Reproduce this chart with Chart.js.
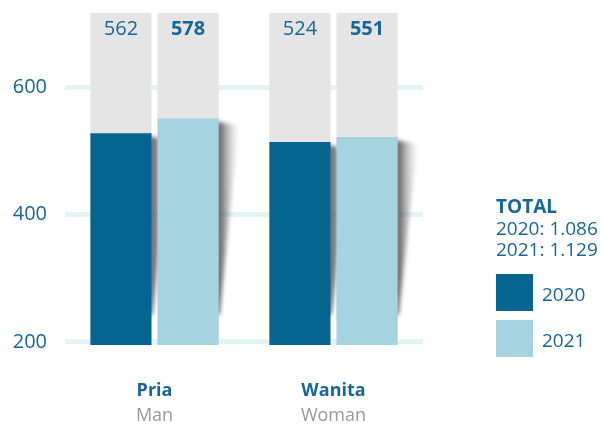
<!DOCTYPE html>
<html>
<head>
<meta charset="utf-8">
<script src="https://cdn.jsdelivr.net/npm/chart.js@4"></script>
<style>
    html, body { margin: 0; padding: 0; background: #fff; }
    #wrap { width: 603px; height: 425px; position: relative; }
</style>
</head>
<body>
<div id="wrap"><canvas id="canvas"></canvas></div>
<script>
'use strict';

const categories = ['Pria', 'Wanita'];
const categoriesEn = ['Man', 'Woman'];
const values2020 = [528, 514];
const values2021 = [551, 522];
const labels2020 = ['562', '524'];
const labels2021 = ['578', '551'];
const backdrop = [717, 717];
const yTicks = [200, 400, 600];
const totalTitle = 'TOTAL';
const totalLines = ['2020: 1.086', '2021: 1.129'];
const seriesNames = ['2020', '2021'];

const DARK = '#066490';
const LIGHT = '#a5d3df';
const GREY = '#e5e5e5';
const TEXT = '#17679a';
const FONT = "'Open Sans', sans-serif";

// soft shadow on the right of the coloured bars, drawn after the grey backdrops
const shadowPlugin = {
    id: 'barShadow',
    beforeDatasetDraw(chart, args) {
        if (args.index !== 1) return;
        const ctx = chart.ctx;
        const bottom = chart.chartArea.bottom;
        [0, 1].forEach(function (i) {
            chart.getDatasetMeta(i).data.forEach(function (bar) {
                const p = bar.getProps(['x', 'y', 'width'], true);
                const xr = p.x + p.width / 2;
                const g = ctx.createLinearGradient(xr, 0, xr + 20, 0);
                g.addColorStop(0, 'rgba(50,50,50,0.8)');
                g.addColorStop(0.5, 'rgba(90,90,90,0.35)');
                g.addColorStop(1, 'rgba(120,120,120,0)');
                ctx.save();
                ctx.filter = 'blur(2px)';
                ctx.fillStyle = g;
                ctx.beginPath();
                ctx.moveTo(xr - 2, p.y + 3);
                ctx.lineTo(xr + 20, p.y + 7);
                ctx.lineTo(xr + 1, bottom - 30);
                ctx.lineTo(xr - 2, bottom - 30);
                ctx.closePath();
                ctx.fill();
                ctx.restore();
            });
        });
    }
};

// value labels, category labels and the side legend
const textPlugin = {
    id: 'texts',
    afterDraw(chart) {
        const ctx = chart.ctx;
        const area = chart.chartArea;
        const xScale = chart.scales.x;
        ctx.save();
        ctx.textAlign = 'center';
        ctx.textBaseline = 'middle';
        ctx.fillStyle = TEXT;
        chart.getDatasetMeta(2).data.forEach(function (bar, i) {
            ctx.font = '20px ' + FONT;
            ctx.fillText(labels2020[i], bar.x, area.top + 16);
        });
        chart.getDatasetMeta(3).data.forEach(function (bar, i) {
            ctx.font = 'bold 20px ' + FONT;
            ctx.fillText(labels2021[i], bar.x, area.top + 16);
        });

        ctx.textBaseline = 'alphabetic';
        categories.forEach(function (c, i) {
            const x = xScale.getPixelForValue(i);
            ctx.font = 'bold 18px ' + FONT;
            ctx.fillStyle = TEXT;
            ctx.fillText(c, x, area.bottom + 51);
            ctx.font = '18px ' + FONT;
            ctx.fillStyle = '#9a9a9a';
            ctx.fillText(categoriesEn[i], x, area.bottom + 76);
        });

        // legend block
        const lx = 496;
        ctx.textAlign = 'left';
        ctx.fillStyle = TEXT;
        ctx.font = 'bold 19px ' + FONT;
        ctx.fillText(totalTitle, lx, 213);
        ctx.font = '19px ' + FONT;
        totalLines.forEach(function (t, i) {
            ctx.fillText(t, lx, 235 + i * 21);
        });
        const colors = [DARK, LIGHT];
        seriesNames.forEach(function (n, i) {
            const top = 274 + i * 46;
            ctx.fillStyle = colors[i];
            ctx.fillRect(lx, top, 37, 37);
            ctx.fillStyle = TEXT;
            ctx.font = '19px ' + FONT;
            ctx.fillText(n, 542, top + 27);
        });
        ctx.restore();
    }
};

const ctx = document.getElementById('canvas').getContext('2d');

new Chart(ctx, {
    type: 'bar',
    data: {
        labels: categories,
        datasets: [
            { label: seriesNames[0], data: values2020, backgroundColor: DARK, stack: 'a', order: 0 },
            { label: seriesNames[1], data: values2021, backgroundColor: LIGHT, stack: 'b', order: 1 },
            { label: 'bg2020', data: backdrop, backgroundColor: GREY, stack: 'a', order: 2 },
            { label: 'bg2021', data: backdrop, backgroundColor: GREY, stack: 'b', order: 3 }
        ]
    },
    options: {
        responsive: true,
        maintainAspectRatio: false,
        animation: false,
        categoryPercentage: 0.75,
        barPercentage: 0.91,
        layout: {
            padding: { top: 13, bottom: 80, left: 0, right: 180 }
        },
        plugins: {
            legend: { display: false },
            tooltip: { enabled: false }
        },
        scales: {
            x: {
                display: false
            },
            y: {
                stacked: false,
                min: 195,
                max: 717,
                afterBuildTicks: function (scale) {
                    scale.ticks = yTicks.map(v => ({ value: v }));
                },
                afterFit: function (scale) {
                    scale.width = 65;
                    scale.paddingTop = 0;
                    scale.paddingBottom = 0;
                },
                grid: {
                    color: '#e4f4f5',
                    lineWidth: 5,
                    drawTicks: false
                },
                border: { display: false },
                ticks: {
                    color: TEXT,
                    padding: 18,
                    font: { family: FONT, size: 20 }
                }
            }
        }
    },
    plugins: [shadowPlugin, textPlugin]
});
</script>
</body>
</html>
